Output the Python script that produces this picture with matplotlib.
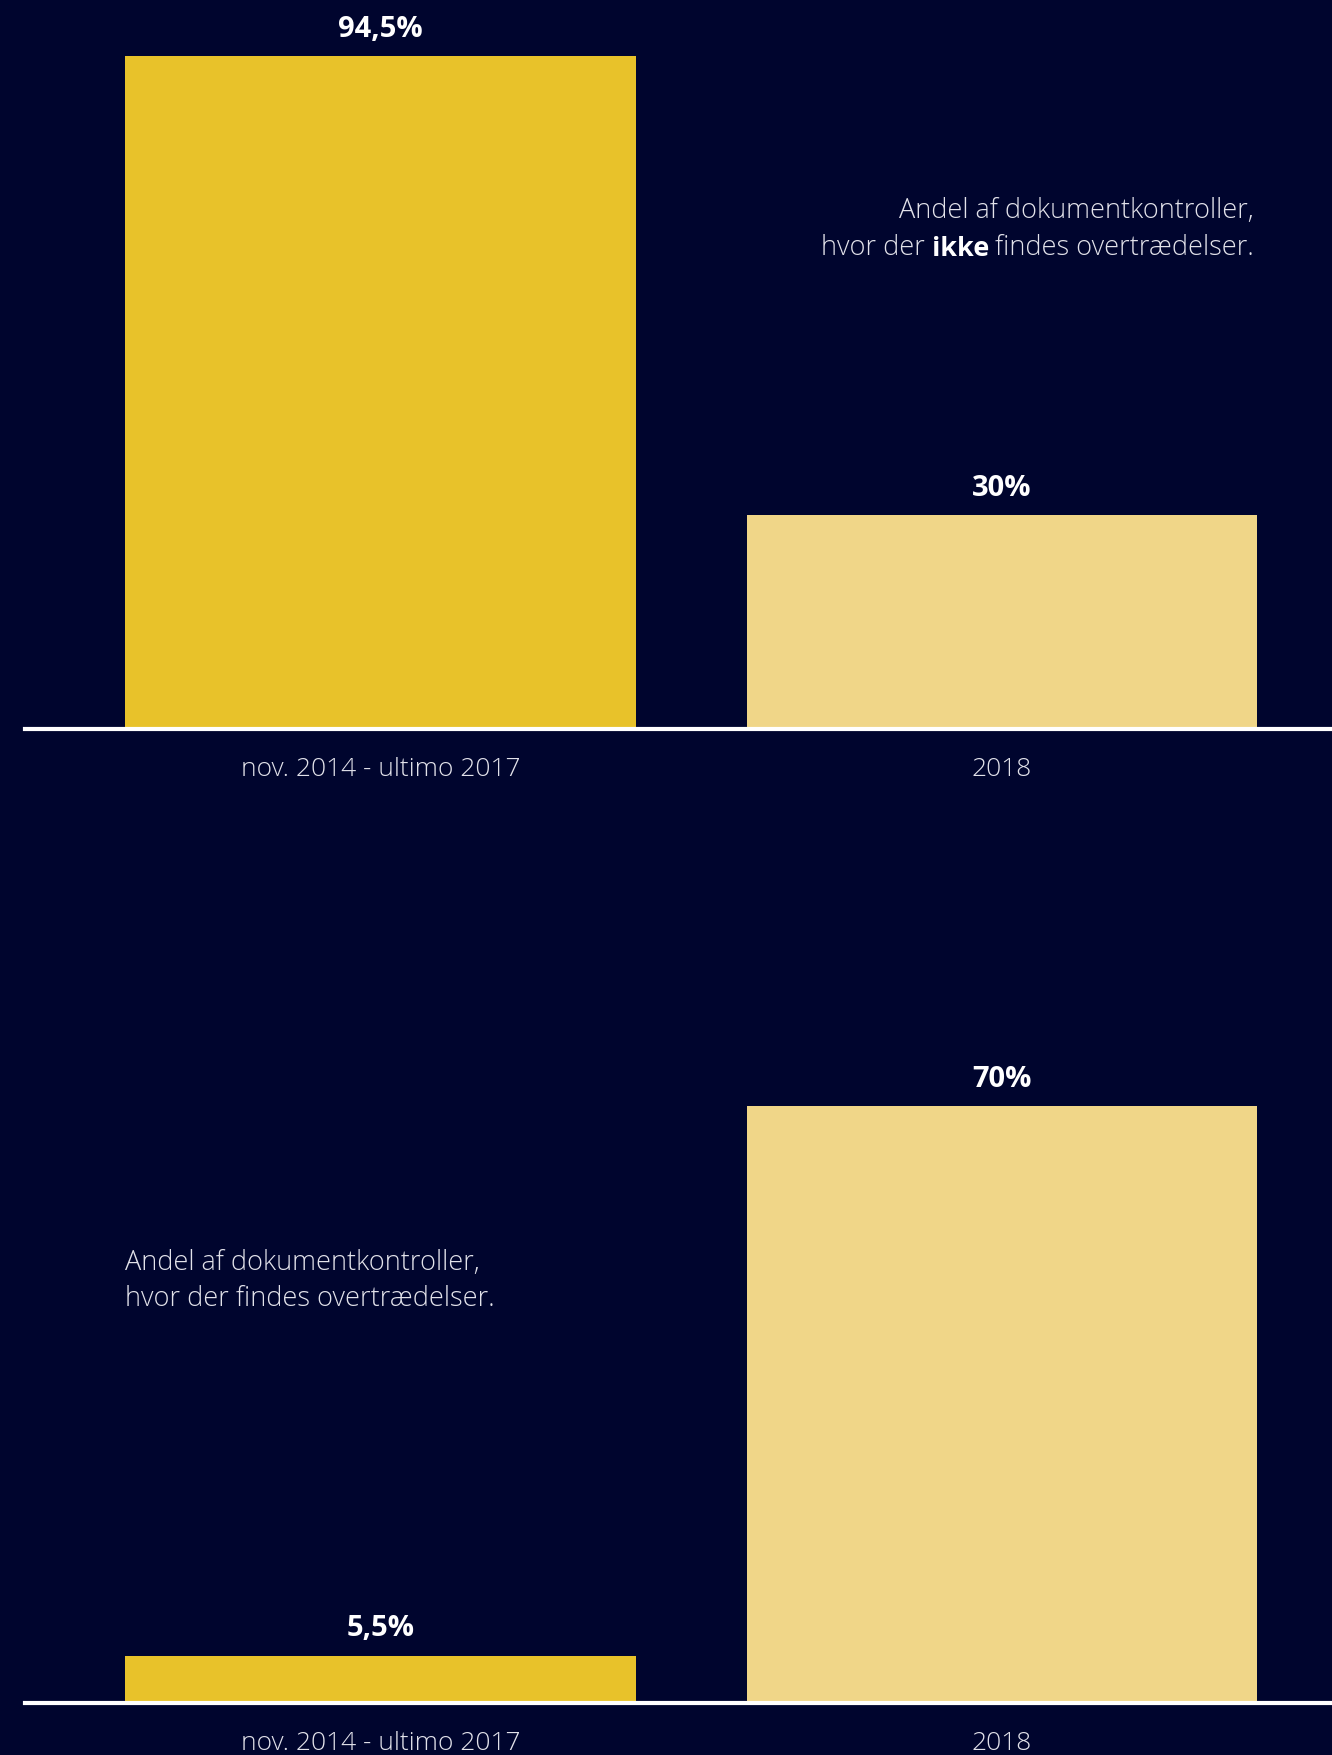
import matplotlib
matplotlib.use("Agg")
import matplotlib.pyplot as plt

# ---- data ----
categories = ["nov. 2014 - ultimo 2017", "2018"]
no_violation = [94.5, 30.0]
violation = [5.5, 70.0]
no_violation_labels = ["94,5%", "30%"]
violation_labels = ["5,5%", "70%"]

BG = "#00052E"
BAR_COLORS = ["#E8C22A", "#F0D688"]
LIGHT = "#E2E2EA"
W, H = 1332, 1755
FS_TXT = 19.5
FS_TICK = 19
FS_VAL = 21

plt.rcParams['font.family'] = ['Open Sans', 'DejaVu Sans']

fig = plt.figure(figsize=(W / 100, H / 100), dpi=100, facecolor=BG)

left_px = 25
ax_w = (W - left_px) / W
x = [0, 1]
xlim = (-0.572, 1.531)
bar_w = 0.822


def setup(ax, values, labels):
    ax.set_facecolor(BG)
    ax.bar(x, values, width=bar_w, color=BAR_COLORS, zorder=2)
    ax.set_xlim(*xlim)
    ax.set_ylim(0, 100)
    for s in ["top", "right", "left"]:
        ax.spines[s].set_visible(False)
    ax.spines["bottom"].set_color("white")
    ax.spines["bottom"].set_linewidth(3)
    ax.spines["bottom"].set_zorder(3)
    ax.set_yticks([])
    ax.set_xticks(x, categories)
    ax.tick_params(axis="x", length=0, pad=20.5, labelsize=FS_TICK, labelcolor=LIGHT)
    for t in ax.get_xticklabels():
        t.set_fontweight("light")
    for xi, v, lab in zip(x, values, labels):
        ax.annotate(lab, xy=(xi, v), xytext=(0, 19.5), textcoords="offset points",
                    ha="center", va="center", color="white", fontsize=FS_VAL,
                    fontweight="bold")


ax1 = fig.add_axes([left_px / W, 1 - 729 / H, ax_w, 712 / H])
setup(ax1, no_violation, no_violation_labels)

ax2 = fig.add_axes([left_px / W, 1 - 1702.5 / H, ax_w, 852 / H])
setup(ax2, violation, violation_labels)

# top annotation (right aligned, with bold "ikke")
xr = 1254 / W
fig.text(xr, 1 - 211 / H, "Andel af dokumentkontroller,", ha="right", va="center",
         color=LIGHT, fontsize=FS_TXT, fontweight="light")
t3 = fig.text(xr, 1 - 248 / H, "findes overtrædelser.", ha="right", va="center",
              color=LIGHT, fontsize=FS_TXT, fontweight="light")
t2 = fig.text(0, 0, "ikke", ha="right", va="bottom", color="white", fontsize=FS_TXT,
              fontweight="bold")
fig.canvas.draw()
r = fig.canvas.get_renderer()
bb3 = t3.get_window_extent(r)
gap = 6.5
t2.set_position(((bb3.x0 - gap) / W, bb3.y0 / H))
fig.canvas.draw()
bb2 = t2.get_window_extent(r)
fig.text((bb2.x0 - gap) / W, bb3.y0 / H, "hvor der", ha="right", va="bottom",
         color=LIGHT, fontsize=FS_TXT, fontweight="light")

# bottom annotation
fig.text(125 / W, 1 - 1249 / H, "Andel af dokumentkontroller,\nhvor der findes overtrædelser.",
         ha="left", va="top", color=LIGHT, fontsize=FS_TXT, fontweight="light",
         linespacing=1.4)

fig.savefig("out.png", dpi=100, facecolor=BG)
